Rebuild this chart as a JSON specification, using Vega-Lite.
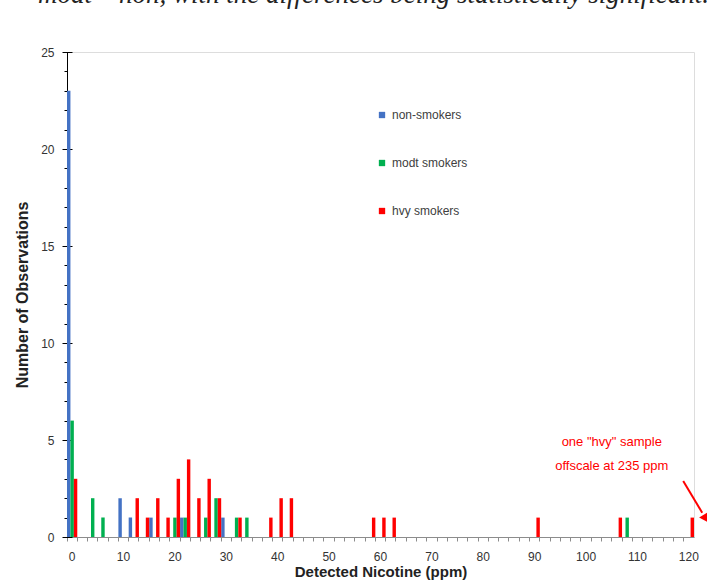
{
  "$schema": "https://vega.github.io/schema/vega-lite/v6.json",
  "width": 627,
  "height": 485,
  "autosize": {"type": "none"},
  "padding": {"left": 67, "top": 52, "right": 13, "bottom": 48},
  "background": "white",
  "title": {
    "text": "modt – non, with the differences being statistically significant.",
    "anchor": "start",
    "frame": "group",
    "font": "Liberation Serif",
    "fontStyle": "italic",
    "fontWeight": "normal",
    "fontSize": 27,
    "color": "#222222",
    "baseline": "alphabetic",
    "offset": 16,
    "dx": -29
  },
  "datasets": {
    "obs": [
      {"group": "non-smokers", "ppm": 0, "count": 23},
      {"group": "non-smokers", "ppm": 10, "count": 2},
      {"group": "non-smokers", "ppm": 12, "count": 1},
      {"group": "non-smokers", "ppm": 16, "count": 1},
      {"group": "non-smokers", "ppm": 22, "count": 1},
      {"group": "non-smokers", "ppm": 30, "count": 1},
      {"group": "modt smokers", "ppm": 0, "count": 6},
      {"group": "modt smokers", "ppm": 4, "count": 2},
      {"group": "modt smokers", "ppm": 6, "count": 1},
      {"group": "modt smokers", "ppm": 20, "count": 1},
      {"group": "modt smokers", "ppm": 22, "count": 1},
      {"group": "modt smokers", "ppm": 26, "count": 1},
      {"group": "modt smokers", "ppm": 28, "count": 2},
      {"group": "modt smokers", "ppm": 32, "count": 1},
      {"group": "modt smokers", "ppm": 34, "count": 1},
      {"group": "modt smokers", "ppm": 108, "count": 1},
      {"group": "hvy smokers", "ppm": 0, "count": 3},
      {"group": "hvy smokers", "ppm": 12, "count": 2},
      {"group": "hvy smokers", "ppm": 14, "count": 1},
      {"group": "hvy smokers", "ppm": 16, "count": 2},
      {"group": "hvy smokers", "ppm": 18, "count": 1},
      {"group": "hvy smokers", "ppm": 20, "count": 3},
      {"group": "hvy smokers", "ppm": 22, "count": 4},
      {"group": "hvy smokers", "ppm": 24, "count": 2},
      {"group": "hvy smokers", "ppm": 26, "count": 3},
      {"group": "hvy smokers", "ppm": 28, "count": 2},
      {"group": "hvy smokers", "ppm": 32, "count": 1},
      {"group": "hvy smokers", "ppm": 38, "count": 1},
      {"group": "hvy smokers", "ppm": 40, "count": 2},
      {"group": "hvy smokers", "ppm": 42, "count": 2},
      {"group": "hvy smokers", "ppm": 58, "count": 1},
      {"group": "hvy smokers", "ppm": 60, "count": 1},
      {"group": "hvy smokers", "ppm": 62, "count": 1},
      {"group": "hvy smokers", "ppm": 90, "count": 1},
      {"group": "hvy smokers", "ppm": 106, "count": 1},
      {"group": "hvy smokers", "ppm": 120, "count": 1}
    ],
    "notes": [
      {"x": 105, "y": 4.88, "label": "one \"hvy\" sample"},
      {"x": 105, "y": 3.64, "label": "offscale at 235 ppm"}
    ],
    "arrow": [
      {"x": 118.9, "y": 2.89},
      {"x": 122.6, "y": 1.25}
    ],
    "arrowhead": [
      {"x": 123.2, "y": 0.95}
    ]
  },
  "layer": [
    {
      "data": {"name": "obs"},
      "mark": {"type": "bar"},
      "encoding": {
        "x": {
          "field": "ppm",
          "type": "ordinal",
          "scale": {
            "domain": [0,2,4,6,8,10,12,14,16,18,20,22,24,26,28,30,32,34,36,38,40,42,44,46,48,50,52,54,56,58,60,62,64,66,68,70,72,74,76,78,80,82,84,86,88,90,92,94,96,98,100,102,104,106,108,110,112,114,116,118,120],
            "paddingInner": 0,
            "paddingOuter": 0
          },
          "axis": {
            "title": "Detected Nicotine (ppm)",
            "bandPosition": 0,
            "labelExpr": "datum.value % 10 == 0 ? datum.label : ''",
            "labelAngle": 0,
            "labelOverlap": false,
            "tickSize": 4,
            "tickColor": "#8c8c8c",
            "domainColor": "#8c8c8c",
            "labelFont": "Liberation Sans",
            "labelFontSize": 12,
            "labelColor": "#333333",
            "labelPadding": 10,
            "titleFont": "Liberation Sans",
            "titleFontSize": 15,
            "titleFontWeight": "bold",
            "titleColor": "#222222",
            "titlePadding": 2,
            "grid": false
          }
        },
        "xOffset": {
          "field": "group",
          "type": "nominal",
          "scale": {"domain": ["non-smokers", "modt smokers", "hvy smokers"], "paddingInner": 0, "paddingOuter": 0}
        },
        "y": {
          "field": "count",
          "type": "quantitative",
          "scale": {"domain": [0, 25], "nice": false},
          "axis": {
            "orient": "left",
            "title": "Number of Observations",
            "values": [0,1,2,3,4,5,6,7,8,9,10,11,12,13,14,15,16,17,18,19,20,21,22,23,24,25],
            "labelExpr": "datum.value % 5 == 0 ? datum.label : ''",
            "labelOverlap": false,
            "tickSize": 3,
            "tickColor": "#000000",
            "domainColor": "#000000",
            "labelFont": "Liberation Sans",
            "labelFontSize": 12,
            "labelColor": "#333333",
            "labelPadding": 10,
            "titleFont": "Liberation Sans",
            "titleFontSize": 16,
            "titleFontWeight": "bold",
            "titleColor": "#222222",
            "titlePadding": 10,
            "grid": false
          }
        },
        "color": {
          "field": "group",
          "type": "nominal",
          "scale": {"domain": ["non-smokers", "modt smokers", "hvy smokers"], "range": ["#4472C4", "#00B050", "#FF0000"]},
          "legend": {
            "orient": "none",
            "direction": "vertical",
            "legendX": 309,
            "legendY": 57,
            "title": null,
            "symbolType": "square",
            "symbolSize": 40,
            "symbolStrokeWidth": 0,
            "labelFont": "Liberation Sans",
            "labelFontSize": 12,
            "labelColor": "#404040",
            "labelOffset": 4,
            "rowPadding": 36
          }
        }
      }
    },
    {
      "data": {"name": "obs"},
      "mark": {"type": "rule", "opacity": 0},
      "encoding": {
        "y": {
          "field": "count",
          "type": "quantitative",
          "axis": {
            "orient": "left",
            "values": [0, 5, 10, 15, 20, 25],
            "tickSize": 10,
            "offset": -5,
            "labels": false,
            "domain": false,
            "title": null,
            "tickColor": "#000000",
            "grid": false
          }
        }
      }
    },
    {
      "data": {"name": "notes"},
      "mark": {"type": "text", "color": "#FF0000", "font": "Liberation Sans", "fontSize": 13, "baseline": "middle", "align": "center"},
      "encoding": {
        "x": {"field": "x", "type": "quantitative", "scale": {"domain": [-1, 121], "nice": false, "zero": false}, "axis": null},
        "y": {"field": "y", "type": "quantitative", "axis": null},
        "text": {"field": "label"}
      }
    },
    {
      "data": {"name": "arrow"},
      "mark": {"type": "line", "color": "#FF0000", "strokeWidth": 2, "clip": false},
      "encoding": {
        "x": {"field": "x", "type": "quantitative", "scale": {"domain": [-1, 121], "nice": false, "zero": false}, "axis": null},
        "y": {"field": "y", "type": "quantitative", "axis": null}
      }
    },
    {
      "data": {"name": "arrowhead"},
      "mark": {"type": "point", "shape": "triangle-up", "filled": true, "color": "#FF0000", "size": 90, "angle": 149, "opacity": 1},
      "encoding": {
        "x": {"field": "x", "type": "quantitative", "scale": {"domain": [-1, 121], "nice": false, "zero": false}, "axis": null},
        "y": {"field": "y", "type": "quantitative", "axis": null}
      }
    }
  ],
  "resolve": {"scale": {"x": "independent"}, "axis": {"x": "independent", "y": "independent"}}
}
